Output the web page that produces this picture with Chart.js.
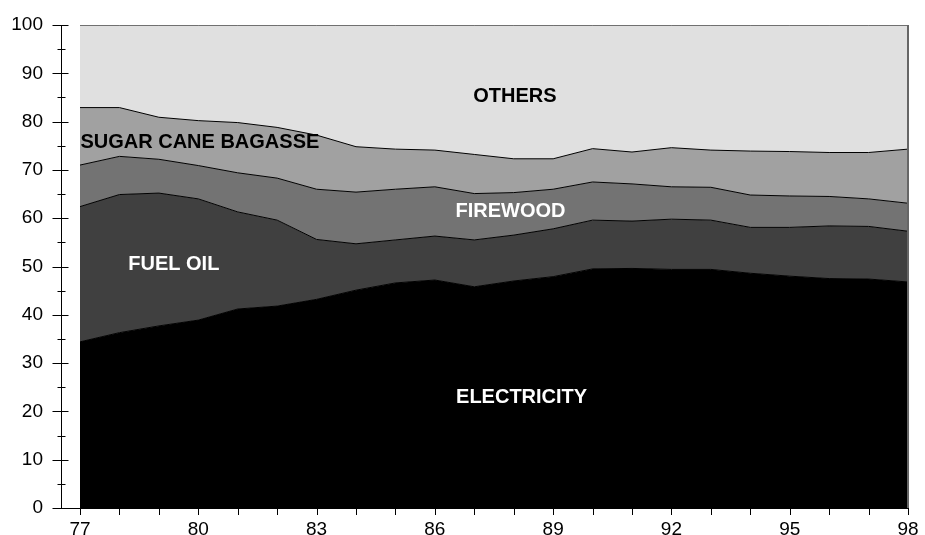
<!DOCTYPE html>
<html>
<head>
<meta charset="utf-8">
<script src="https://cdn.jsdelivr.net/npm/chart.js@4"></script>
<style>
  html, body { margin: 0; padding: 0; background: #fff; }
  #wrap { width: 925px; height: 535px; position: relative; }
</style>
</head>
<body>
<div id="wrap"><canvas id="chart"></canvas></div>
<script>
// =============================================
// データ (%)
// =============================================
const years = [77, 78, 79, 80, 81, 82, 83, 84, 85, 86, 87, 88, 89, 90, 91, 92, 93, 94, 95, 96, 97, 98]

const electricity = [34.4, 36.3, 37.7, 38.9, 41.2, 41.8, 43.2, 45.1, 46.6, 47.2, 45.8, 47.0, 47.9, 49.5, 49.6, 49.4, 49.4, 48.6, 48.0, 47.5, 47.4, 46.8]
const fuelOil     = [28.0, 28.6, 27.5, 25.1, 20.1, 17.8, 12.4, 9.6, 8.9, 9.1, 9.7, 9.5, 9.9, 10.1, 9.8, 10.4, 10.2, 9.5, 10.1, 10.9, 10.9, 10.5]
const firewood    = [8.6, 7.9, 7.0, 6.9, 8.1, 8.7, 10.4, 10.7, 10.5, 10.2, 9.6, 8.8, 8.2, 7.9, 7.7, 6.7, 6.8, 6.7, 6.5, 6.1, 5.7, 5.8]
const bagasse     = [11.9, 10.1, 8.7, 9.3, 10.4, 10.5, 11.2, 9.4, 8.3, 7.6, 8.1, 7.0, 6.3, 6.9, 6.6, 8.1, 7.7, 9.1, 9.2, 9.1, 9.6, 11.2]
const others      = [17.1, 17.1, 19.1, 19.8, 20.2, 21.2, 22.8, 25.2, 25.7, 25.9, 26.8, 27.7, 27.7, 25.6, 26.3, 25.4, 25.9, 26.1, 26.2, 26.4, 26.4, 25.7]

const yTicks = [0, 5, 10, 15, 20, 25, 30, 35, 40, 45, 50, 55, 60, 65, 70, 75, 80, 85, 90, 95, 100]

// エリア内ラベル (年, 値)
const areaLabels = [
  { text: 'OTHERS',             year: 88.03, value: 85.2, color: '#000' },
  { text: 'SUGAR CANE BAGASSE', year: 80.04, value: 75.7, color: '#000' },
  { text: 'FIREWOOD',           year: 87.92, value: 61.3, color: '#fff' },
  { text: 'FUEL OIL',           year: 79.38, value: 50.5, color: '#fff' },
  { text: 'ELECTRICITY',        year: 88.20, value: 22.9, color: '#fff' },
]

// =============================================
// 定数
// =============================================
const FONT = "'Liberation Sans', Arial, Helvetica, sans-serif"
const X_LEFT_GAP = 0.482   // y軸と77年の間の余白（年単位）

const series = [
  { label: 'ELECTRICITY',        data: electricity, fill: 'origin', color: '#000000' },
  { label: 'FUEL OIL',           data: fuelOil,     fill: '-1',     color: '#404040' },
  { label: 'FIREWOOD',           data: firewood,    fill: '-1',     color: '#737373' },
  { label: 'SUGAR CANE BAGASSE', data: bagasse,     fill: '-1',     color: '#a1a1a1' },
  { label: 'OTHERS',             data: others,      fill: '-1',     color: '#e0e0e0' },
]

// =============================================
// プラグイン: 目盛り線・枠・ラベル
// =============================================
const decorPlugin = {
  id: 'decor',
  afterDatasetsDraw(chart) {
    const { ctx, scales: { x, y } } = chart
    ctx.save()

    // 右枠
    ctx.strokeStyle = '#666'
    ctx.lineWidth = 2
    ctx.beginPath()
    ctx.moveTo(x.getPixelForValue(98), y.getPixelForValue(100))
    ctx.lineTo(x.getPixelForValue(98), y.getPixelForValue(0))
    ctx.stroke()

    // y軸目盛り（軸を跨ぐ）
    ctx.strokeStyle = '#000'
    ctx.lineWidth = 1
    const ax = chart.chartArea.left + 0.5
    yTicks.forEach(v => {
      const py = Math.round(y.getPixelForValue(v)) + 0.5
      const major = v % 10 === 0
      ctx.beginPath()
      ctx.moveTo(ax - (major ? 9 : 4), py)
      ctx.lineTo(ax + (major ? 7 : 4), py)
      ctx.stroke()
    })

    // x軸目盛り
    const by = chart.chartArea.bottom
    years.forEach(v => {
      const px = Math.round(x.getPixelForValue(v)) + 0.5
      ctx.beginPath()
      ctx.moveTo(px, by)
      ctx.lineTo(px, by + 7)
      ctx.stroke()
    })

    // エリアラベル
    ctx.font = `bold 20px ${FONT}`
    ctx.textAlign = 'center'
    ctx.textBaseline = 'middle'
    areaLabels.forEach(l => {
      ctx.fillStyle = l.color
      ctx.fillText(l.text, x.getPixelForValue(l.year), y.getPixelForValue(l.value))
    })
    ctx.restore()
  }
}

// =============================================
// グラフ描画
// =============================================
new Chart(document.getElementById('chart'), {
  type: 'line',
  data: {
    datasets: series.map(s => ({
      label: s.label,
      data: s.data.map((v, i) => ({ x: years[i], y: v })),
      backgroundColor: s.color,
      borderColor: '#000',
      borderWidth: 1,
      pointRadius: 0,
      tension: 0,
      fill: s.fill,
    }))
  },
  options: {
    responsive: true,
    maintainAspectRatio: false,
    animation: false,
    layout: { padding: { top: 25, right: 17, left: 0, bottom: 0 } },
    plugins: { legend: { display: false }, tooltip: { enabled: false } },
    scales: {
      x: {
        type: 'linear',
        min: years[0] - X_LEFT_GAP,
        max: years[years.length - 1],
        afterBuildTicks(scale) {
          scale.ticks = years.map(v => ({ value: v }))
        },
        afterFit(scale) { scale.height = 27 },
        ticks: {
          autoSkip: false,
          maxRotation: 0,
          padding: 0,
          color: '#000',
          font: { family: FONT, size: 19 },
          callback: v => ((v - years[0]) % 3 === 0 ? String(v) : '')
        },
        // 目盛り線はプラグインで描くので、ここは間隔確保のみ
        grid: { display: true, drawOnChartArea: false, drawTicks: true, tickLength: 10, tickColor: 'transparent' },
        border: { display: true, color: '#000', width: 1 }
      },
      y: {
        stacked: true,
        min: 0,
        max: 100,
        afterBuildTicks(scale) {
          scale.ticks = yTicks.map(v => ({ value: v }))
        },
        afterFit(scale) { scale.width = 61 },
        ticks: {
          autoSkip: false,
          padding: 0,
          color: '#000',
          font: { family: FONT, size: 19 },
          callback: v => (v % 10 === 0 ? String(v) : '')
        },
        grid: { display: true, drawOnChartArea: false, drawTicks: true, tickLength: 18, tickColor: 'transparent' },
        border: { display: true, color: '#000', width: 1 }
      }
    }
  },
  plugins: [decorPlugin]
})
</script>
</body>
</html>
